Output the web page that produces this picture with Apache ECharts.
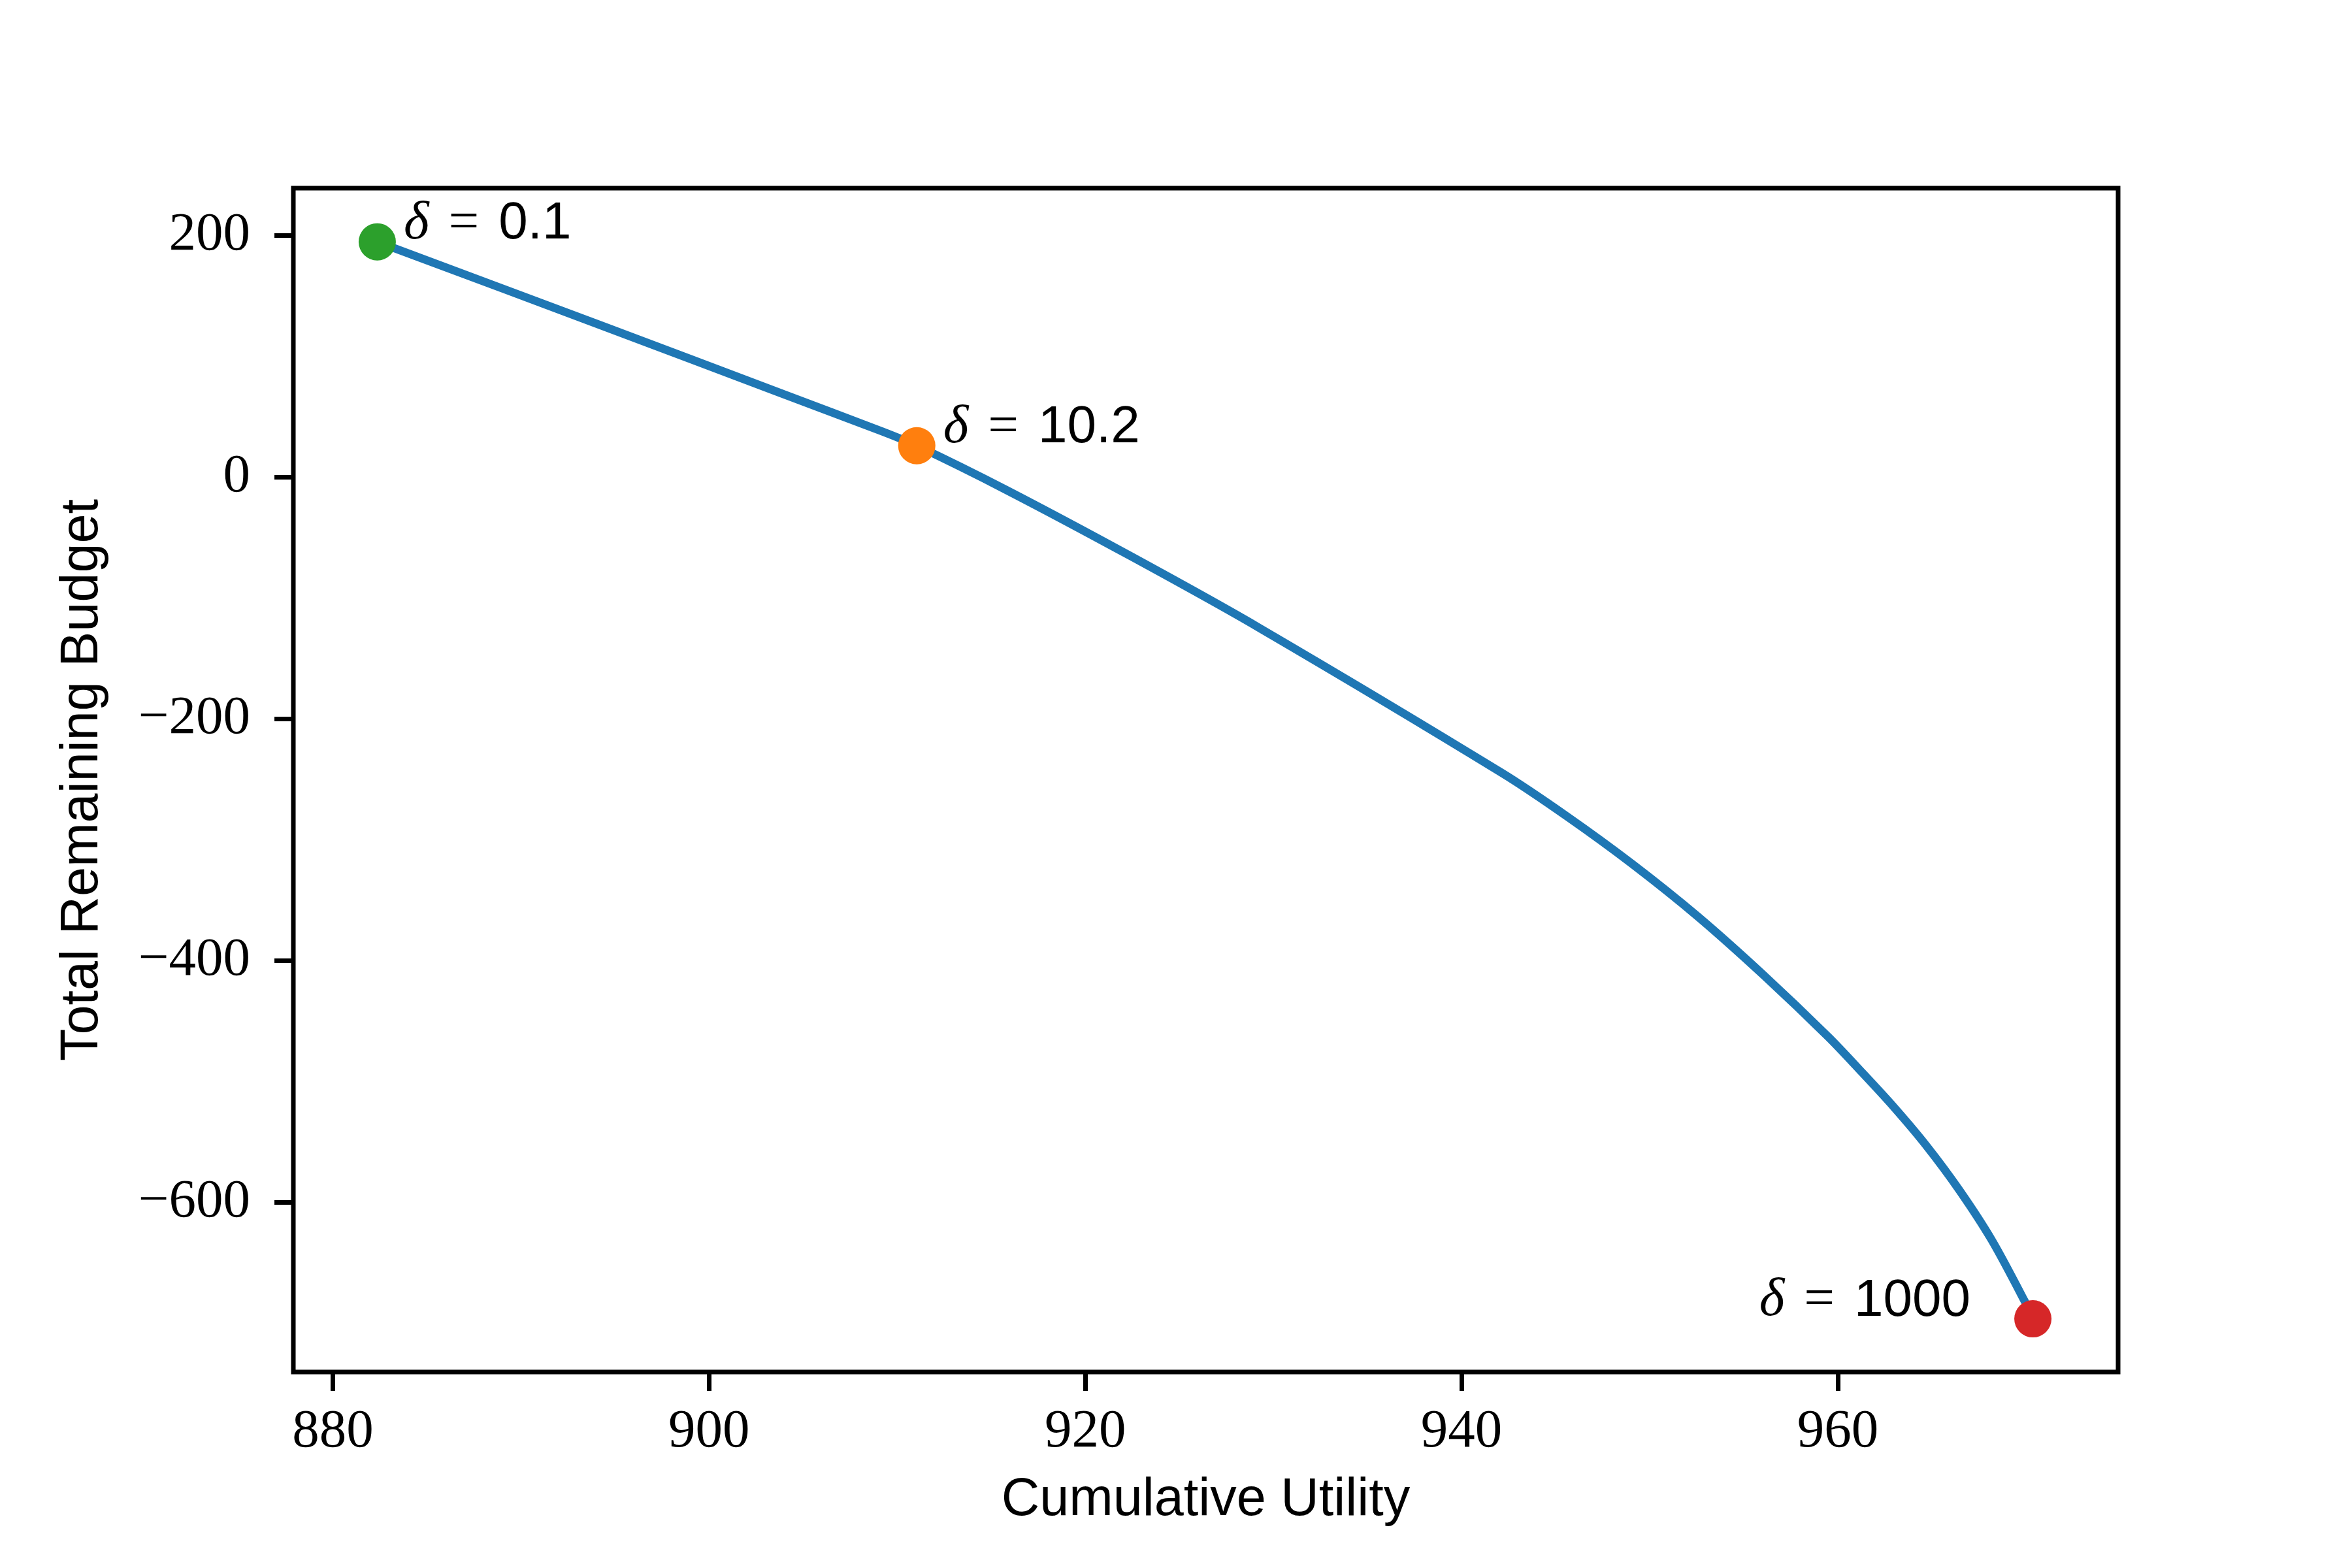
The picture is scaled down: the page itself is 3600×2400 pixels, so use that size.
<!DOCTYPE html>
<html>
<head>
    <meta charset="UTF-8">
    <title>Cumulative Utility vs Total Remaining Budget</title>
    <script src="https://cdn.jsdelivr.net/npm/echarts@6/dist/echarts.min.js"></script>
    <style>
        html, body { margin: 0; padding: 0; background: #fff; }
        #chart { width: 3600px; height: 2400px; }
    </style>
</head>
<body>
<div id="chart"></div>
<script>
    // curve
    var utility = [882.36, 894.17, 903.96, 909.17, 911.04, 915.81, 922.45, 929.10,
        942.15, 945.63, 949.10, 952.57, 956.04, 959.51, 961.25, 962.99, 964.72, 966.46,
        968.19, 969.93, 970.37];
    var budget = [194.6, 126.0, 68.5, 37.9, 25.9, -10.8, -65.8, -123.5,
        -244.9, -281.1, -320.5, -363.8, -411.9, -463.5, -492.0, -521.5, -553.5, -590.0,
        -631.5, -681.8, -696.5];

    // highlighted delta values
    var deltaLabels = ['0.1', '10.2', '1000'];
    var deltaUtility = [882.36, 911.04, 970.37];
    var deltaBudget = [194.6, 25.9, -696.5];
    var deltaColors = ['#2ca02c', '#ff7f0e', '#d62728'];

    var xTicks = [880, 900, 920, 940, 960];
    var yTicks = [-600, -400, -200, 0, 200];

    var serif = 'Liberation Serif';
    var sans = 'Liberation Sans';

    var lineData = [];
    for (var i = 0; i < utility.length; i++) {
        lineData.push([utility[i], budget[i]]);
    }

    var markerData = [];
    for (var j = 0; j < deltaLabels.length; j++) {
        var last = j === deltaLabels.length - 1;
        markerData.push({
            value: [deltaUtility[j], deltaBudget[j]],
            itemStyle: {color: deltaColors[j], opacity: 1},
            label: {
                show: true,
                position: last ? 'left' : 'right',
                distance: last ? 67 : 12,
                offset: [0, -27],
                formatter: '{d|δ}{e|=}{n|' + deltaLabels[j] + '}'
            }
        });
    }

    var rich = {
        d: {fontFamily: serif, fontStyle: 'italic', fontSize: 83, color: '#000'},
        e: {fontFamily: serif, fontSize: 83, color: '#000', padding: [0, 30, 0, 30]},
        n: {fontFamily: sans, fontSize: 80, color: '#000'}
    };

    var myChart = echarts.init(document.getElementById('chart'));
    var option = {
        animation: false,
        backgroundColor: '#fff',
        grid: {
            left: 449, right: 358, top: 288, bottom: 300,
            show: true, borderColor: '#000', borderWidth: 7,
            containLabel: false
        },
        xAxis: {
            type: 'value',
            min: 877.9,
            max: 974.9,
            name: 'Cumulative Utility',
            nameLocation: 'middle',
            nameGap: 156,
            nameTextStyle: {fontFamily: sans, fontSize: 81, color: '#000'},
            axisLine: {show: false, onZero: false},
            splitLine: {show: false},
            axisTick: {
                show: true, inside: false, length: 29,
                customValues: xTicks,
                lineStyle: {color: '#000', width: 7}
            },
            axisLabel: {
                customValues: xTicks,
                margin: 51,
                fontFamily: serif, fontSize: 83, color: '#000'
            }
        },
        yAxis: {
            type: 'value',
            min: -740.5,
            max: 239,
            name: 'Total Remaining Budget',
            nameLocation: 'middle',
            nameRotate: 90,
            nameGap: 282,
            nameTextStyle: {fontFamily: sans, fontSize: 81, color: '#000'},
            axisLine: {show: false, onZero: false},
            splitLine: {show: false},
            axisTick: {
                show: true, inside: false, length: 29,
                customValues: yTicks,
                lineStyle: {color: '#000', width: 7}
            },
            axisLabel: {
                customValues: yTicks,
                margin: 66,
                fontFamily: serif, fontSize: 83, color: '#000',
                formatter: function (v) {
                    return v < 0 ? '\u2212' + Math.abs(v) : String(v);
                }
            }
        },
        series: [
            {
                type: 'line',
                data: lineData,
                smooth: 0.3,
                showSymbol: false,
                lineStyle: {color: '#1f77b4', width: 12.5},
                z: 2
            },
            {
                type: 'scatter',
                data: markerData,
                symbol: 'circle',
                symbolSize: 57,
                label: {color: '#000', rich: rich},
                z: 3
            }
        ]
    };
    myChart.setOption(option);
</script>
</body>
</html>
